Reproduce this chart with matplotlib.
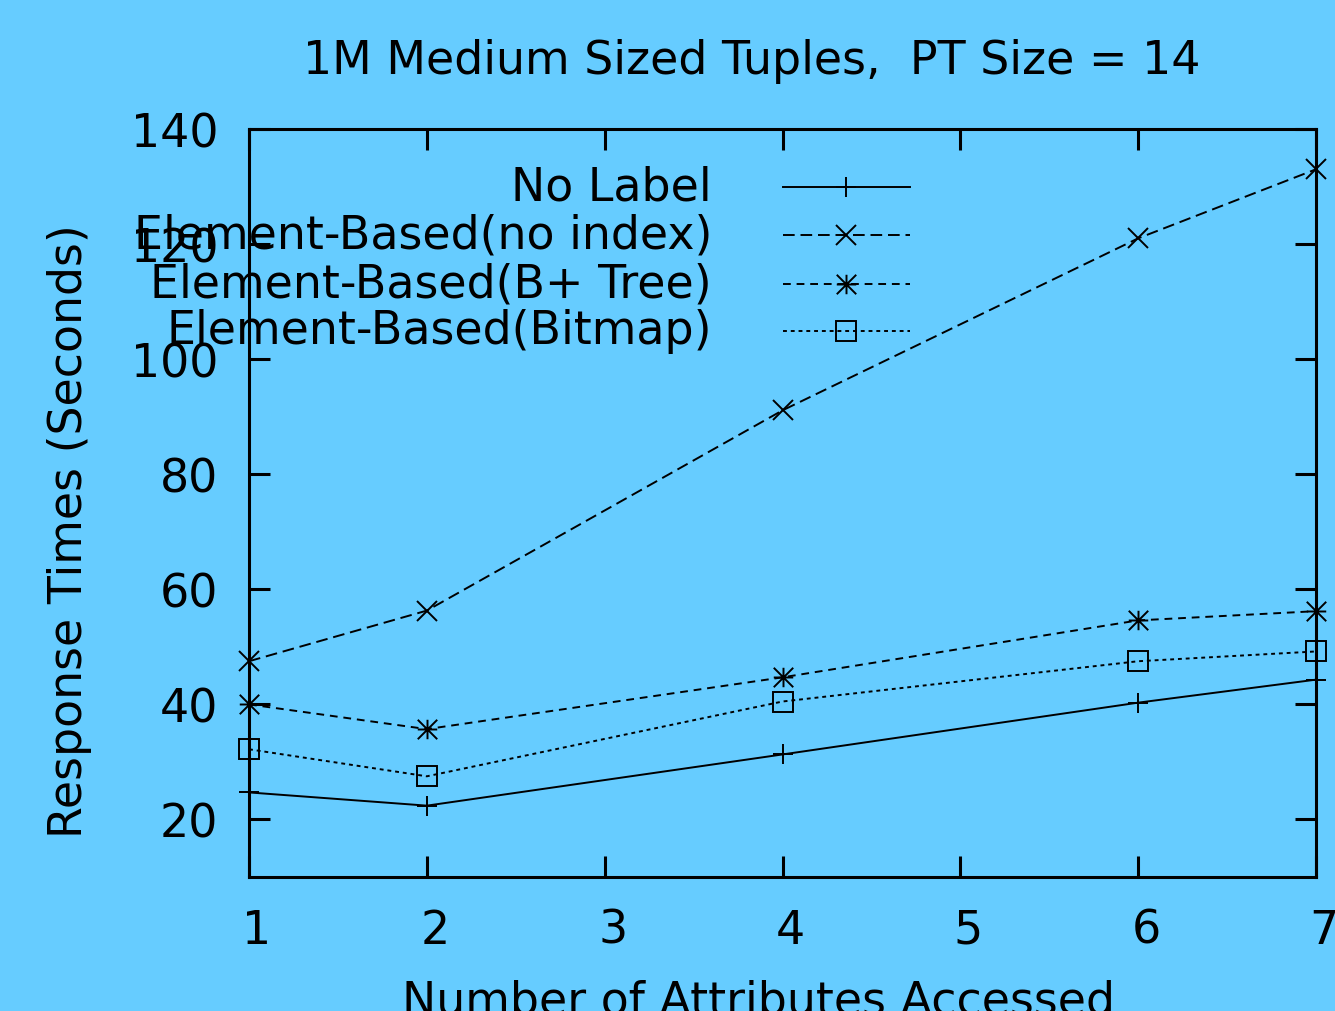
''' gnuplot style response time plot, 1M medium tuples '''

import numpy as np
import matplotlib
matplotlib.use('Agg')
import matplotlib.pyplot as plt
import matplotlib.transforms as mtransforms
from matplotlib.path import Path

# ---- data ----
attrs = [1, 2, 4, 6, 7]
no_label = [24.7, 22.4, 31.3, 40.3, 44.3]
elem_noindex = [47.5, 56.3, 91.1, 121.0, 133.0]
elem_btree = [40.0, 35.7, 44.7, 54.6, 56.2]
elem_bitmap = [32.2, 27.5, 40.5, 47.5, 49.2]

labels = ['No Label', 'Element-Based(no index)',
          'Element-Based(B+ Tree)', 'Element-Based(Bitmap)']
xticks = [1, 2, 3, 4, 5, 6, 7]
yticks = [20, 40, 60, 80, 100, 120, 140]

BG = '#66CCFF'
FS = 33
plt.rcParams['font.family'] = ['DejaVu Sans']

# gnuplot point type 3: plus + cross
star = Path([(-1, 0), (1, 0), (0, -1), (0, 1), (-1, -1), (1, 1), (-1, 1), (1, -1)],
            [Path.MOVETO, Path.LINETO] * 4)

W, H, DPI = 1335, 1012, 100
fig = plt.figure(figsize=(W / DPI, H / DPI), dpi=DPI, facecolor=BG)
ax = fig.add_axes([249 / W, 1 - 878 / H, (1316 - 249) / W, (878 - 130) / H])
ax.set_facecolor(BG)

styles = [
    dict(ls='-', marker='+'),
    dict(ls=(0, (6, 3)), marker='x'),
    dict(ls=(0, (4, 3)), marker=star),
    dict(ls=(0, (2, 2)), marker='s'),
]
series = [no_label, elem_noindex, elem_btree, elem_bitmap]

for ys, st in zip(series, styles):
    ax.plot(attrs, ys, color='black', lw=1.4, ls=st['ls'], marker=st['marker'],
            ms=14, mew=1.4, mfc='none', mec='black', clip_on=False)

ax.set_xlim(1, 7)
ax.set_ylim(10, 140)
ax.set_xticks(xticks)
ax.set_yticks(yticks)
ax.tick_params(direction='in', length=15, width=2.2, top=True, right=True,
               labelsize=FS, pad=22)
for lab in ax.get_xticklabels():
    lab.set_transform(lab.get_transform() +
                      mtransforms.ScaledTranslation(8 / DPI, 0, fig.dpi_scale_trans))
for s in ax.spines.values():
    s.set_linewidth(2.2)

# legend, gnuplot style: right aligned text then sample
leg_rows = [188, 236, 285, 332]
to_ax = lambda px, py: ((px - 249) / 1067, (878 - py) / 748)
for lab, st, py in zip(labels, styles, leg_rows):
    tx, ty = to_ax(712, py)
    ax.text(tx, ty, lab, transform=ax.transAxes, ha='right', va='center',
            fontsize=FS, clip_on=False)
    x0, yy = to_ax(783, py)
    x1, _ = to_ax(910, py)
    xm, _ = to_ax(846, py)
    ax.plot([x0, x1], [yy, yy], transform=ax.transAxes, color='black',
            lw=1.4, ls=st['ls'])
    ax.plot([xm], [yy], transform=ax.transAxes, color='black', ls='none',
            marker=st['marker'], ms=14, mew=1.4, mfc='none')

fig.text(752 / W, 1 - 62 / H, '1M Medium Sized Tuples,  PT Size = 14',
         ha='center', va='center', fontsize=FS)
fig.text(759 / W, -0.002, 'Number of Attributes Accessed',
         ha='center', va='baseline', fontsize=FS)
fig.text(70 / W, 1 - 531 / H, 'Response Times (Seconds)', rotation=90,
         ha='center', va='center', fontsize=FS)

fig.savefig('out.png', dpi=DPI, facecolor=BG)
